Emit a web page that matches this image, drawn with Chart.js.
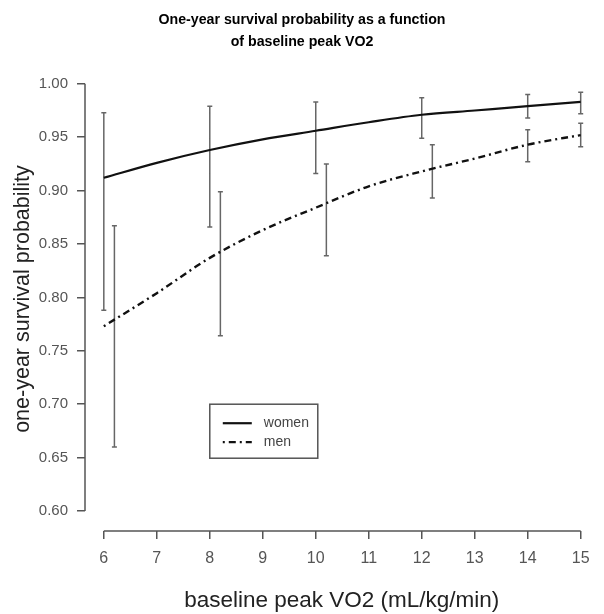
<!DOCTYPE html>
<html>
<head>
  <title>One-year survival probability</title>
  <script src="https://cdn.jsdelivr.net/npm/chart.js"></script>
  <style>
    body { margin: 0; background: #fff; }
  </style>
</head>
<body>
  <canvas id="survChart" width="604" height="614"></canvas>

  <script>
    // fitted curves (sampled at whole VO2 values)
    const curveX = [6, 7, 8, 9, 10, 11, 12, 13, 14, 15];
    const womenCurve = [0.912, 0.926, 0.938, 0.948, 0.956, 0.964, 0.971, 0.975, 0.979, 0.983];
    const menCurve = [0.773, 0.804, 0.837, 0.863, 0.884, 0.904, 0.918, 0.930, 0.943, 0.952];

    // confidence intervals
    const womenBarX = [6, 8, 10, 12, 14, 15];
    const womenLow = [0.788, 0.866, 0.916, 0.949, 0.968, 0.972];
    const womenHigh = [0.973, 0.979, 0.983, 0.987, 0.990, 0.992];

    const menBarX = [6.2, 8.2, 10.2, 12.2, 14, 15];
    const menLow = [0.660, 0.764, 0.839, 0.893, 0.927, 0.941];
    const menHigh = [0.867, 0.899, 0.925, 0.943, 0.957, 0.963];

    const xTicks = [6, 7, 8, 9, 10, 11, 12, 13, 14, 15];
    const yTicks = [0.60, 0.65, 0.70, 0.75, 0.80, 0.85, 0.90, 0.95, 1.00];

    const legendLabels = ['women', 'men'];

    const axisGray = '#555';

    function curvePoints(xs, ys) {
      return xs.map((x, i) => ({ x: x, y: ys[i] }));
    }

    // each bar: low point, high point, then a gap so the segments don't join
    function barPoints(xs, lo, hi) {
      const pts = [];
      xs.forEach((x, i) => {
        pts.push({ x: x, y: lo[i] }, { x: x, y: hi[i] }, { x: x, y: null });
      });
      return pts;
    }

    // R style axes: line only runs from first to last tick
    const axisLines = {
      id: 'axisLines',
      afterDraw(chart) {
        const ctx = chart.ctx;
        const xs = chart.scales.x, ys = chart.scales.y;
        ctx.save();
        ctx.strokeStyle = axisGray;
        ctx.lineWidth = 1.5;
        ctx.beginPath();
        ctx.moveTo(xs.getPixelForValue(xTicks[0]), xs.top);
        ctx.lineTo(xs.getPixelForValue(xTicks[xTicks.length - 1]), xs.top);
        ctx.moveTo(ys.right, ys.getPixelForValue(yTicks[0]));
        ctx.lineTo(ys.right, ys.getPixelForValue(yTicks[yTicks.length - 1]));
        ctx.stroke();
        ctx.restore();
      }
    };

    // boxed legend anchored at x=8, y=0.70 like the original
    const boxLegend = {
      id: 'boxLegend',
      afterDraw(chart) {
        const ctx = chart.ctx;
        const left = chart.scales.x.getPixelForValue(8);
        const top = chart.scales.y.getPixelForValue(0.70);
        const w = 108, h = 54;
        ctx.save();
        ctx.strokeStyle = axisGray;
        ctx.lineWidth = 1.5;
        ctx.strokeRect(left, top, w, h);

        const dashes = [[], [2, 4, 7, 4]];
        legendLabels.forEach((lab, i) => {
          const y = top + 19 + i * 19;
          ctx.strokeStyle = '#111';
          ctx.lineWidth = 2.2;
          ctx.setLineDash(dashes[i]);
          ctx.beginPath();
          ctx.moveTo(left + 13, y);
          ctx.lineTo(left + 42, y);
          ctx.stroke();
          ctx.setLineDash([]);
          ctx.fillStyle = '#444';
          ctx.font = '14px "Liberation Sans", Arial, sans-serif';
          ctx.textBaseline = 'middle';
          ctx.fillText(lab, left + 54, y);
        });
        ctx.restore();
      }
    };

    const ctx = document.getElementById('survChart').getContext('2d');
    const chart = new Chart(ctx, {
      type: 'line',
      data: {
        datasets: [
          {
            label: 'women',
            data: curvePoints(curveX, womenCurve),
            borderColor: '#111',
            borderWidth: 2.2,
            pointRadius: 0,
            cubicInterpolationMode: 'monotone',
            fill: false
          },
          {
            label: 'men',
            data: curvePoints(curveX, menCurve),
            borderColor: '#111',
            borderWidth: 2.4,
            borderDash: [2, 4, 7, 4],
            pointRadius: 0,
            cubicInterpolationMode: 'monotone',
            fill: false
          },
          {
            label: 'women CI',
            data: barPoints(womenBarX, womenLow, womenHigh),
            borderColor: '#666',
            borderWidth: 1.5,
            pointStyle: 'line',
            pointRadius: 2.5,
            pointBorderColor: '#666',
            pointBorderWidth: 1.5,
            spanGaps: false,
            tension: 0
          },
          {
            label: 'men CI',
            data: barPoints(menBarX, menLow, menHigh),
            borderColor: '#666',
            borderWidth: 1.5,
            pointStyle: 'line',
            pointRadius: 2.5,
            pointBorderColor: '#666',
            pointBorderWidth: 1.5,
            spanGaps: false,
            tension: 0
          }
        ]
      },
      options: {
        responsive: false,
        animation: false,
        layout: { padding: 0 },
        plugins: {
          legend: { display: false },
          tooltip: { enabled: false },
          title: {
            display: true,
            text: ['One-year survival probability as a function', 'of baseline peak VO2'],
            color: '#000',
            font: { family: '"Liberation Sans", Arial, sans-serif', size: 14.2, weight: 'bold', lineHeight: 1.55 },
            padding: { top: 9, bottom: 14 }
          }
        },
        scales: {
          x: {
            type: 'linear',
            min: 5.645,
            max: 15.336,
            afterBuildTicks: scale => { scale.ticks = xTicks.map(v => ({ value: v })); },
            afterFit: scale => { scale.height = 83; },
            border: { display: false },
            grid: { drawOnChartArea: false, drawTicks: true, tickLength: 8, color: axisGray, lineWidth: 1.5 },
            ticks: {
              color: axisGray,
              padding: 10,
              font: { family: '"Liberation Sans", Arial, sans-serif', size: 16 },
              callback: v => String(v)
            },
            title: {
              display: true,
              text: 'baseline peak VO2 (mL/kg/min)',
              color: '#222',
              font: { family: '"Liberation Sans", Arial, sans-serif', size: 22.5, lineHeight: 1.2 },
              padding: { top: 0, bottom: 0 }
            }
          },
          y: {
            type: 'linear',
            min: 0.5813,
            max: 1.0157,
            afterBuildTicks: scale => { scale.ticks = yTicks.map(v => ({ value: v })); },
            afterFit: scale => { scale.width = 85; },
            border: { display: false },
            grid: { drawOnChartArea: false, drawTicks: true, tickLength: 8, color: axisGray, lineWidth: 1.5 },
            ticks: {
              color: axisGray,
              padding: 9,
              font: { family: '"Liberation Sans", Arial, sans-serif', size: 15 },
              callback: v => v.toFixed(2)
            },
            title: {
              display: true,
              text: 'one-year survival probability',
              color: '#222',
              font: { family: '"Liberation Sans", Arial, sans-serif', size: 21.5, lineHeight: 1.2 },
              padding: { top: 10, bottom: 0 }
            }
          }
        }
      },
      plugins: [axisLines, boxLegend]
    });
  </script>
</body>
</html>
